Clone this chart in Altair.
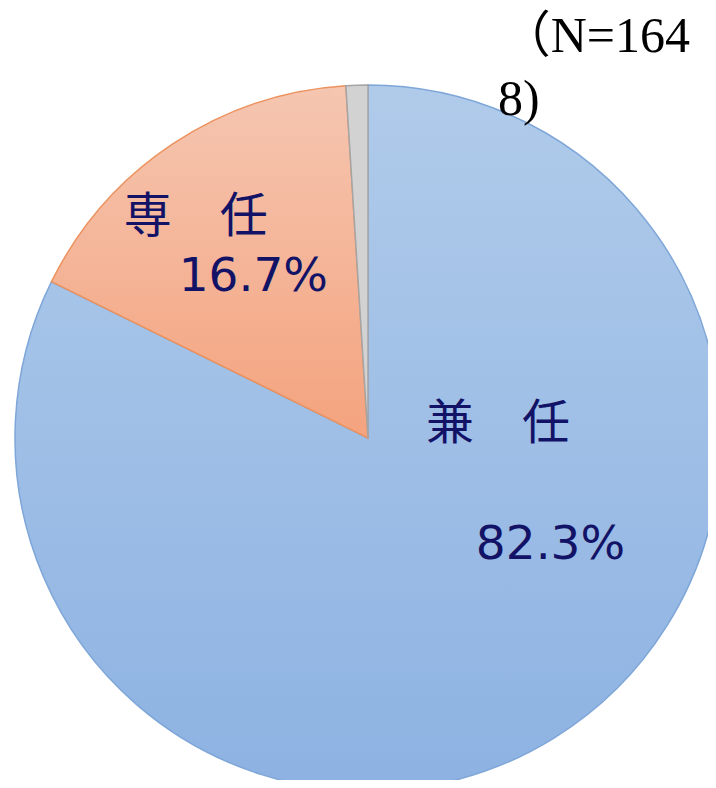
import altair as alt
import pandas as pd

categories = ["兼任", "専任", "無回答"]
values = [82.3, 16.7, 1.0]
order = [1, 2, 3]
label_names = ["兼　任", "専　任", ""]
label_pcts = ["82.3%", "16.7%", ""]
n_line1 = "（N=164"
n_line2 = "8)"

df = pd.DataFrame({
    "category": categories,
    "value": values,
    "order": order,
    "name": label_names,
    "pct": label_pcts,
})

CX, CY, R = 360, 430, 353
theta_scale = alt.Scale(domain=[0, 100])

base = alt.Chart(df).transform_window(
    cum="sum(value)", sort=[alt.SortField("order")], frame=[None, 0]
).transform_calculate(
    start="datum.cum - datum.value",
    mid="datum.cum - datum.value / 2",
)

def grad(top, bottom):
    return alt.Gradient(
        gradient="linear",
        stops=[alt.GradientStop(color=top, offset=0), alt.GradientStop(color=bottom, offset=1)],
        x1=0, x2=0, y1=0, y2=1,
    )

def arc_layer(cat, fill, stroke):
    return base.transform_filter(alt.datum.category == cat).mark_arc(
        radius=R, fill=fill, stroke=stroke, strokeWidth=1.5
    ).encode(
        theta=alt.Theta("start:Q", scale=theta_scale, stack=False),
        theta2="cum:Q",
        x=alt.value(CX),
        y=alt.value(CY),
    )

blue = arc_layer("兼任", grad("#b0cbea", "#8db2e2"), "#7ea6d8")
orange = arc_layer("専任", grad("#f5c6b1", "#f4a37e"), "#ec925e")
grey = arc_layer("無回答", "#d2d2d2", "#a5a5a5")

text_color = "#121266"

def text_layer(cat, field, radius, dx, dy, font, size):
    return base.transform_filter(alt.datum.category == cat).mark_text(
        radius=radius, dx=dx, dy=dy, font=font, fontSize=size,
        color=text_color, align="center", baseline="middle",
    ).encode(
        theta=alt.Theta("mid:Q", scale=theta_scale, stack=False),
        text=f"{field}:N",
        x=alt.value(CX),
        y=alt.value(CY),
    )

JP = "Noto Sans CJK JP"
NUM = "DejaVu Sans"
t1 = text_layer("兼任", "name", 0, 130, -13, JP, 48)
t2 = text_layer("兼任", "pct", 126, 116, 0, NUM, 47)
t3 = text_layer("専任", "name", 264, -26, 0, JP, 48)
t4 = text_layer("専任", "pct", 196, -6, 2, NUM, 47)

n1 = alt.Chart(pd.DataFrame({"t": [n_line1]})).mark_text(
    font="Liberation Serif, Noto Sans CJK JP", fontSize=50, color="#000000",
    align="right", baseline="alphabetic",
).encode(text="t:N", x=alt.value(682), y=alt.value(44))

n2 = alt.Chart(pd.DataFrame({"t": [n_line2]})).mark_text(
    font="Liberation Serif, Noto Sans CJK JP", fontSize=50, color="#000000",
    align="left", baseline="alphabetic",
).encode(text="t:N", x=alt.value(490), y=alt.value(107))

chart = alt.layer(blue, orange, grey, t1, t2, t3, t4, n1, n2).properties(
    width=700, height=772, autosize=alt.AutoSizeParams(type="none"), padding=0,
).configure_view(stroke=None)

chart.save("out.html", embed_options={"renderer": "svg", "actions": False})
